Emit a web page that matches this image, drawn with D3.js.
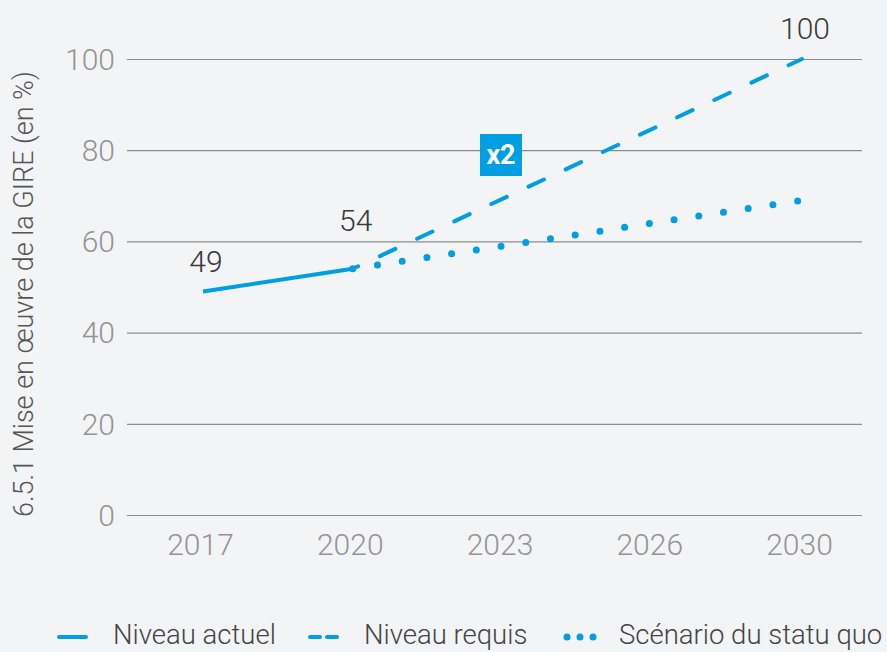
<!DOCTYPE html>
<html>
<head>
<meta charset="utf-8">
<script src="https://cdn.jsdelivr.net/npm/d3@7"></script>
<style>
  body { margin: 0; background: #f3f4f6; }
  svg { display: block; font-family: "Roboto Light", Roboto, "Noto Sans", sans-serif; font-weight: 300; }
</style>
</head>
<body>
<div id="chart"></div>
<script>
// data
const years = ["2017", "2020", "2023", "2026", "2030"];
const actualYears = ["2017", "2020"];
const actualValues = [49, 54];
const requiredYears = ["2020", "2030"];
const requiredValues = [54, 100];
const statusQuoYears = ["2020", "2030"];
const statusQuoValues = [54, 69];
const yTicks = [0, 20, 40, 60, 80, 100];
const valueLabels = [
  { year: "2017", value: 49, dy: -20 },
  { year: "2020", value: 54, dy: -38 },
  { year: "2030", value: 100, dy: -20 }
];
const legendItems = ["Niveau actuel", "Niveau requis", "Scénario du statu quo"];
const yTitle = "6.5.1 Mise en œuvre de la GIRE (en %)";

const width = 887, height = 652;
const blue = "#009fe3";
const gridLeft = 127, gridRight = 862;

const svg = d3.select("#chart").append("svg")
    .attr("width", width)
    .attr("height", height);

svg.append("rect").attr("width", width).attr("height", height).attr("fill", "#f3f4f6");

const x = d3.scalePoint().domain(years).range([203, 802]);
const y = d3.scaleLinear().domain([0, 100]).range([515, 59]);

// grid + y ticks
const yAxis = svg.append("g")
    .attr("transform", `translate(${gridLeft},0)`)
    .call(d3.axisLeft(y).tickValues(yTicks).tickSize(-(gridRight - gridLeft)).tickPadding(12));
yAxis.select(".domain").remove();
yAxis.selectAll(".tick line").attr("stroke", "#8c8c8c").attr("stroke-width", 1.2);
yAxis.selectAll(".tick text")
    .attr("fill", "#939393")
    .style("font-size", "30px")
    .attr("dy", "0.34em");

// x ticks
const xAxis = svg.append("g")
    .attr("transform", `translate(-3,${y(0)})`)
    .call(d3.axisBottom(x).tickSize(0).tickPadding(40));
xAxis.select(".domain").remove();
xAxis.selectAll(".tick text")
    .attr("fill", "#939393")
    .attr("dy", 0)
    .style("font-size", "30px");
// let the svg font rule apply to axis text
svg.selectAll("g").attr("font-family", null);

// y title
svg.append("text")
    .attr("transform", `translate(33,294) rotate(-90)`)
    .attr("text-anchor", "middle")
    .attr("fill", "#555")
    .style("font-size", "27px")
    .text(yTitle);

const line = d3.line().x(d => x(d[0])).y(d => y(d[1]));

// scénario du statu quo (dots)
svg.append("path")
    .datum(d3.zip(statusQuoYears, statusQuoValues))
    .attr("d", line)
    .attr("fill", "none")
    .attr("stroke", blue)
    .attr("stroke-width", 7)
    .attr("stroke-linecap", "round")
    .attr("stroke-dasharray", "0,25");

// niveau requis (dashes)
svg.append("path")
    .datum(d3.zip(requiredYears, requiredValues))
    .attr("d", line)
    .attr("fill", "none")
    .attr("stroke", blue)
    .attr("stroke-width", 4)
    .attr("stroke-linecap", "round")
    .attr("stroke-dasharray", "17,24")
    .attr("stroke-dashoffset", 11);

// niveau actuel
svg.append("path")
    .datum(d3.zip(actualYears, actualValues))
    .attr("d", line)
    .attr("fill", "none")
    .attr("stroke", blue)
    .attr("stroke-width", 4);

// value labels
svg.selectAll(".vlabel")
    .data(valueLabels)
    .join("text")
    .attr("class", "vlabel")
    .attr("x", d => x(d.year) + 3)
    .attr("y", d => y(d.value) + d.dy)
    .attr("text-anchor", "middle")
    .attr("fill", "#3a3a3a")
    .style("font-size", "30px")
    .text(d => d.value);

// x2 badge
const badge = svg.append("g").attr("transform", "translate(480,134)");
badge.append("rect").attr("width", 42).attr("height", 42).attr("fill", blue);
badge.append("text")
    .attr("x", 21).attr("y", 30)
    .attr("text-anchor", "middle")
    .attr("fill", "#fff")
    .style("font-family", "Roboto, sans-serif")
    .style("font-size", "27px")
    .style("font-weight", 700)
    .text("x2");

// legend
const legendX = [57, 308, 563];
const legend = svg.append("g").attr("transform", "translate(0,637)");
const lg = legend.selectAll("g").data(legendItems).join("g")
    .attr("transform", (d, i) => `translate(${legendX[i]},0)`);
lg.append("line")
    .attr("x1", (d, i) => i === 2 ? 4 : 2)
    .attr("x2", (d, i) => i === 2 ? 31 : 29)
    .attr("stroke", blue)
    .attr("stroke-width", (d, i) => i === 2 ? 7 : 4)
    .attr("stroke-linecap", "round")
    .attr("stroke-dasharray", (d, i) => i === 0 ? null : i === 1 ? "10,7" : "0,13");
lg.append("text")
    .attr("x", 56)
    .attr("y", 7)
    .attr("fill", "#444")
    .style("font-size", "27.5px")
    .text(d => d);
</script>
</body>
</html>
